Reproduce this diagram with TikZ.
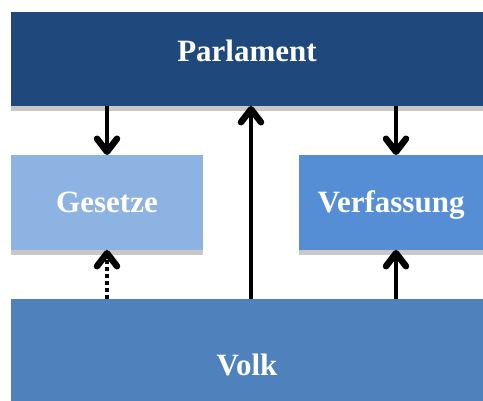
\documentclass[tikz,border=0pt]{standalone}
\usepackage{fontspec}
\setmainfont{Liberation Serif}
\usetikzlibrary{arrows.meta}

\definecolor{parlblue}{RGB}{31,73,125}
\definecolor{gesblue}{RGB}{141,179,226}
\definecolor{verfblue}{RGB}{85,142,213}
\definecolor{volkblue}{RGB}{79,129,189}
\definecolor{shadowgray}{RGB}{200,200,200}

\begin{document}
\begin{tikzpicture}[
    x = 1pt, y = 1pt,
    line width = 4pt, % line style
    arr/.style = {-{Straight Barb[length=13pt,width=20pt,line width=6.5pt,round]}},
    box/.style = {
      draw = none,
      inner sep = 0pt,
      outer sep = 0pt,
      text = white,
      font = \fontsize{31}{31}\selectfont\bfseries
    },
    band/.style = {fill = shadowgray}
    ]

    \useasboundingbox (0,0) rectangle (483,401);

    \node[box, fill = parlblue, minimum width = 472pt, minimum height = 94pt,
          text height = 20pt, text depth = 14pt] (parl) at (247,342) {Parlament};
    \node[box, fill = gesblue, minimum width = 192pt, minimum height = 95pt,
          text height = 20pt, text depth = 0pt] (ges) at (107,198.5) {Gesetze};
    \node[box, fill = verfblue, minimum width = 184pt, minimum height = 95pt,
          text height = 20pt, text depth = 0pt] (verf) at (391,198.5) {Verfassung};
    \node[box, fill = volkblue, minimum width = 472pt, minimum height = 102pt,
          text height = 52pt, text depth = 0pt] (volk) at (247,51) {Volk};

    % shadows under the boxes
    \fill[band] (parl.south west) rectangle ([yshift=-5pt]parl.south east);
    \fill[band] (ges.south west) rectangle ([yshift=-5pt]ges.south east);
    \fill[band] (verf.south west) rectangle ([yshift=-5pt]verf.south east);

    \draw[arr] (parl.south -| ges.north) -- (ges.north);
    \draw[arr] ([xshift=5pt]verf.north |- parl.south) -- ([xshift=5pt]verf.north);
    \draw[arr] ([xshift=4pt]volk.north) -- ([xshift=4pt]parl.south);
    \draw[arr, dash pattern = on 4pt off 3pt] (volk.north -| ges.south) -- (ges.south);
    \draw[arr] ([xshift=5pt]verf.south |- volk.north) -- ([xshift=5pt]verf.south);
\end{tikzpicture}
\end{document}
